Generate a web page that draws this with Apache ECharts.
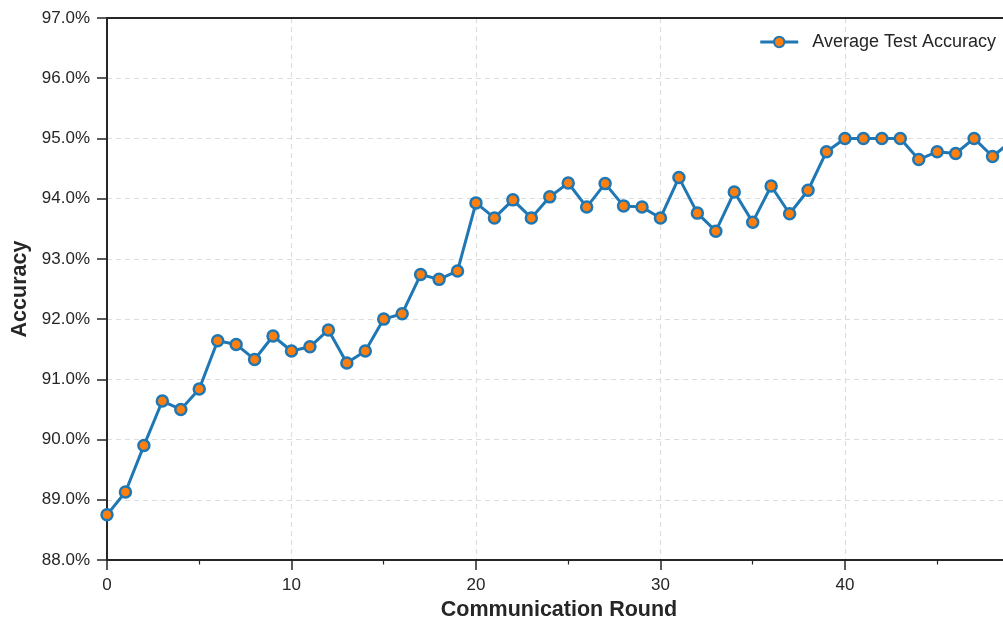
<!DOCTYPE html>
<html>
<head>
<meta charset="utf-8">
<script src="https://cdn.jsdelivr.net/npm/echarts@6/dist/echarts.min.js"></script>
<style>
  html, body { margin: 0; padding: 0; background: #fff; }
  #chart { width: 1003px; height: 619px; }
</style>
</head>
<body>
<div id="chart"></div>
<script>
// communication rounds and test accuracy (%)
const rounds = [0, 1, 2, 3, 4, 5, 6, 7, 8, 9, 10, 11, 12, 13, 14, 15, 16, 17, 18, 19,
    20, 21, 22, 23, 24, 25, 26, 27, 28, 29, 30, 31, 32, 33, 34, 35, 36, 37, 38, 39,
    40, 41, 42, 43, 44, 45, 46, 47, 48, 49];
const accuracy = [88.75, 89.13, 89.90, 90.64, 90.50, 90.84, 91.64, 91.58, 91.33, 91.72,
    91.47, 91.54, 91.82, 91.27, 91.47, 92.00, 92.09, 92.74, 92.66, 92.80,
    93.93, 93.68, 93.98, 93.68, 94.03, 94.26, 93.86, 94.25, 93.88, 93.86,
    93.68, 94.35, 93.76, 93.46, 94.11, 93.61, 94.21, 93.75, 94.14, 94.78,
    95.00, 95.00, 95.00, 95.00, 94.65, 94.78, 94.75, 95.00, 94.70, 94.95];
const seriesName = 'Average Test Accuracy';

const FONT = 'Liberation Sans, Arial, sans-serif';
const DARK = '#262626';
const gridLine = { show: true, lineStyle: { color: '#dddddd', type: [5, 4], width: 1.2 } };

const chart = echarts.init(document.getElementById('chart'));

const option = {
    animation: false,
    textStyle: { fontFamily: FONT },
    grid: {
        left: 107,
        top: 18,
        width: 904,
        height: 542,
        outerBoundsMode: 'none',
        containLabel: false
    },
    legend: {
        right: 7,
        top: 33,
        padding: 0,
        itemWidth: 38,
        itemHeight: 13,
        itemGap: 14,
        lineStyle: { width: 3 },
        textStyle: { fontSize: 18, color: DARK, fontFamily: FONT, padding: [0, 0, 0, 9] },
        data: [seriesName]
    },
    xAxis: [
        {
            type: 'value',
            min: 0,
            max: 49,
            interval: 10,
            name: 'Communication Round',
            nameLocation: 'middle',
            nameGap: 38,
            nameTextStyle: { fontSize: 21.5, fontWeight: 'bold', color: DARK },
            axisLine: { onZero: false, lineStyle: { color: DARK, width: 2 } },
            axisTick: { show: true, length: 10, lineStyle: { color: DARK, width: 1.5 } },
            minorTick: { show: true, splitNumber: 2, length: 4.5, lineStyle: { color: DARK, width: 1.2 } },
            axisLabel: { fontSize: 17, color: DARK, margin: 17, showMaxLabel: false },
            splitLine: gridLine
        },
        {
            // top spine
            type: 'value',
            position: 'top',
            min: 0,
            max: 49,
            axisLine: { show: true, onZero: false, lineStyle: { color: DARK, width: 2 } },
            axisTick: { show: false },
            axisLabel: { show: false },
            splitLine: { show: false }
        }
    ],
    yAxis: {
        type: 'value',
        min: 88,
        max: 97,
        interval: 1,
        name: 'Accuracy',
        nameLocation: 'middle',
        nameGap: 67,
        nameTextStyle: { fontSize: 21.5, fontWeight: 'bold', color: DARK },
        axisLine: { show: true, lineStyle: { color: DARK, width: 2 } },
        axisTick: { show: true, length: 10, lineStyle: { color: DARK, width: 1.5 } },
        axisLabel: {
            fontSize: 17,
            color: DARK,
            margin: 17,
            formatter: v => v.toFixed(1) + '%'
        },
        splitLine: gridLine
    },
    series: [
        {
            name: seriesName,
            type: 'line',
            data: rounds.map((r, i) => [r, accuracy[i]]),
            symbol: 'circle',
            symbolSize: 11,
            lineStyle: { color: '#1f77b4', width: 3 },
            itemStyle: { color: '#ff7f0e', borderColor: '#1f77b4', borderWidth: 2.5 },
            clip: false
        }
    ]
};

chart.setOption(option);
</script>
</body>
</html>
